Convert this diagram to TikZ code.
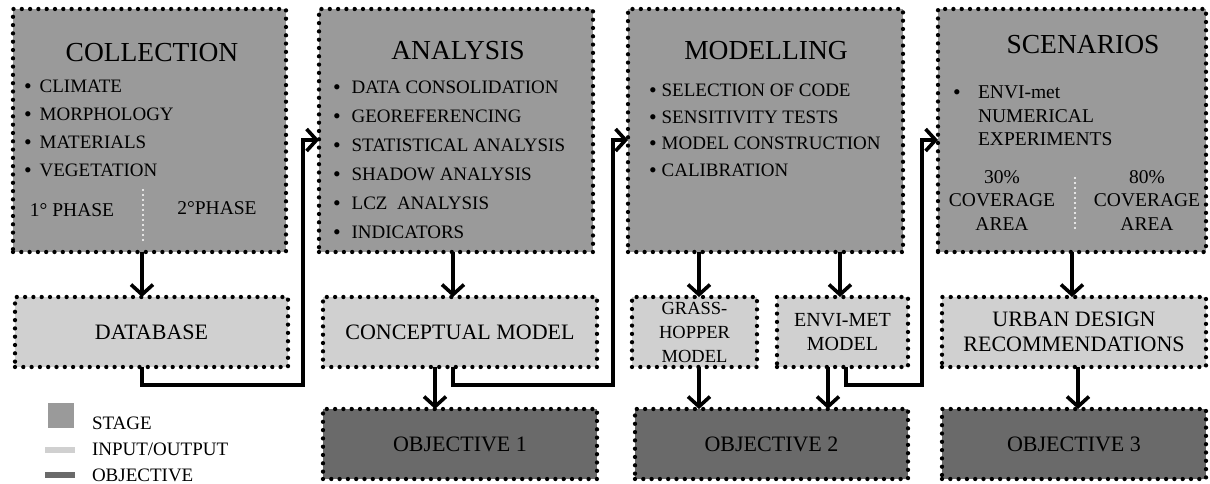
\documentclass[tikz,border=0pt]{standalone}
\usepackage{graphicx}
\usepackage{fontspec}
\setmainfont{Liberation Serif}
\usetikzlibrary{arrows.meta}
\definecolor{stage-gray}{HTML}{9A9A9A}
\definecolor{io-gray}{HTML}{D0D0D0}
\definecolor{obj-gray}{HTML}{6A6A6A}
\newcommand{\bul}[1][9pt]{\raisebox{-0.15ex}{\scalebox{1.15}{\textbullet}}\hspace{#1}}

\begin{document}
\begin{tikzpicture}[x=1pt, y=-1pt,
    every node/.style={inner sep=0pt, outer sep=0pt},
    dotbox/.style={draw=black, line width=4.3pt, line cap=round,
      dash pattern=on 0pt off 8.3pt, minimum height=70pt, align=center},
    stagebox/.style={dotbox, fill=stage-gray, minimum width=#1, minimum height=243pt},
    iobox/.style={dotbox, fill=io-gray, minimum width=#1,
      font=\fontsize{22}{24.5}\selectfont},
    objbox/.style={dotbox, fill=obj-gray, minimum width=#1,
      font=\fontsize{22}{26}\selectfont},
    title/.style={font=\fontsize{27.5}{30}\selectfont},
    item/.style={anchor=west, font=\fontsize{19}{22}\selectfont},
    small/.style={font=\fontsize{19.5}{23.5}\selectfont, align=center},
    divider/.style={white, line width=2.2pt, line cap=round, dash pattern=on 0pt off 5pt},
    flow/.style={line width=3.6pt, -{Straight Barb[length=10pt, width=22pt]}}]
  \useasboundingbox (0,0) rectangle (1210,484);

  % stages
  \node[stagebox=273pt] (col) at (149.5,130.5) {};
  \node[stagebox=274pt] (ana) at (456,130.5) {};
  \node[stagebox=275pt] (mdl) at (765.5,130.5) {};
  \node[stagebox=268pt] (scn) at (1072,130.5) {};

  \node[title] (coltitle) at (152,52.5) {COLLECTION};
  \node[title] (anatitle) at (458,50.5) {ANALYSIS};
  \node[title] (mdltitle) at (766,50.5) {MODELLING};
  \node[title] (scntitle) at (1083,45) {SCENARIOS};

  \foreach \txt [count=\i] in {CLIMATE, MORPHOLOGY, MATERIALS, VEGETATION}
    \node[item] (colitem\i) at (24,{59+28*\i}) {\bul[8pt]\txt};
  \foreach \txt [count=\i] in {DATA CONSOLIDATION, GEOREFERENCING,
      STATISTICAL ANALYSIS, SHADOW ANALYSIS, {LCZ\ \ ANALYSIS}, INDICATORS}
    \node[item] (anaitem\i) at (333,{59+29*\i}) {\bul[11pt]\txt};
  \foreach \txt [count=\i] in {SELECTION OF CODE, SENSITIVITY TESTS,
      MODEL CONSTRUCTION, CALIBRATION}
    \node[item] (mdlitem\i) at (649,{64.5+26.5*\i}) {\bul[5pt]\txt};

  \node[item] (scnbul) at (953,95) {\bul[0pt]};
  \node[item, small, align=left] (scnitem) at (978,116) {ENVI-met\\NUMERICAL\\EXPERIMENTS};

  \node[small] (phase1) at (72,210) {1° PHASE};
  \node[small] (phase2) at (217,208.5) {2°PHASE};
  \node[small] (cov30) at (1002,200.5) {30\%\\COVERAGE\\AREA};
  \node[small] (cov80) at (1147,200.5) {80\%\\COVERAGE\\AREA};
  \draw[divider] (143,190) -- (143,240);
  \draw[divider] (1075,178) -- (1075,230);

  % inputs / outputs
  \node[iobox=273pt] (db) at (151.5,332) {DATABASE};
  \node[iobox=274pt] (cm) at (460,332) {CONCEPTUAL MODEL};
  \node[iobox=125pt, font=\fontsize{18.5}{24}\selectfont] (gh) at (694.5,332) {GRASS-\\HOPPER\\MODEL};
  \node[iobox=131pt, font=\fontsize{20}{24}\selectfont] (em) at (842.5,332) {ENVI-MET\\MODEL};
  \node[iobox=264pt] (udr) at (1074,332) {URBAN DESIGN\\RECOMMENDATIONS};

  % objectives
  \node[objbox=274pt] (ob1) at (460,444) {OBJECTIVE 1};
  \node[objbox=273pt] (ob2) at (771.5,444) {OBJECTIVE 2};
  \node[objbox=264pt] (ob3) at (1074,444) {OBJECTIVE 3};

  % connectors
  \draw[flow] ([xshift=-7.5pt]col.south) -- ([xshift=-9.5pt]db.north);
  \draw[flow] ([xshift=-3pt]ana.south) -- ([xshift=-7pt]cm.north);
  \draw[flow] ([xshift=-66.5pt]mdl.south) -- ([xshift=4.5pt]gh.north);
  \draw[flow] ([xshift=74.5pt]mdl.south) -- ([xshift=-2.5pt]em.north);
  \draw[flow] (scn.south) -- ([xshift=-2pt]udr.north);
  \draw[flow] ([xshift=-25pt]cm.south) -- ([xshift=-25pt]ob1.north);
  \draw[flow] ([xshift=4.5pt]gh.south) -- ([xshift=-72.5pt]ob2.north);
  \draw[flow] ([xshift=-14.5pt]em.south) -- ([xshift=56.5pt]ob2.north);
  \draw[flow] ([xshift=4pt]udr.south) -- ([xshift=4pt]ob3.north);

  \draw[flow] ([xshift=-9.5pt]db.south) -- ++(0,18)
    -| ([xshift=-16pt, yshift=-9.5pt]ana.west) -- ([yshift=-9.5pt]ana.west);
  \draw[flow] ([xshift=-7pt]cm.south) -- ++(0,18)
    -| ([xshift=-15pt, yshift=-9.5pt]mdl.west) -- ([yshift=-9.5pt]mdl.west);
  \draw[flow] ([xshift=3.5pt]em.south) -- ++(0,18)
    -| ([xshift=-16pt, yshift=-9.5pt]scn.west) -- ([yshift=-9.5pt]scn.west);

  % legend
  \node[fill=stage-gray, minimum width=26pt, minimum height=25pt] (legstage) at (61,415.5) {};
  \node[fill=io-gray, minimum width=30pt, minimum height=6pt] (legio) at (60,450) {};
  \node[fill=obj-gray, minimum width=30pt, minimum height=6pt] (legobj) at (60,475) {};
  \node[item] (legstagetxt) at (92,423) {STAGE};
  \node[item] (legiotxt) at (92,449.5) {INPUT/OUTPUT};
  \node[item] (legobjtxt) at (92,475) {OBJECTIVE};
\end{tikzpicture}
\end{document}
